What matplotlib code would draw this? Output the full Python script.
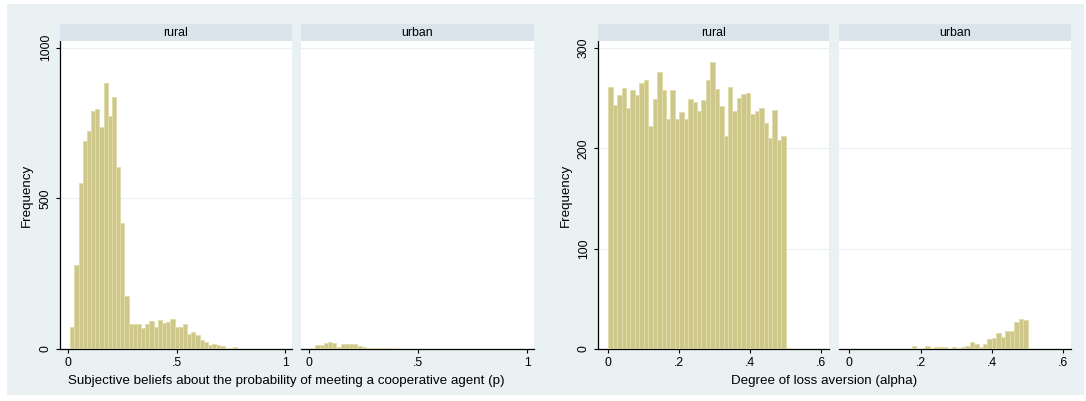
import numpy as np
import matplotlib
matplotlib.use("Agg")
import matplotlib.pyplot as plt
from matplotlib.patches import Rectangle

plt.rcParams['font.family'] = ['Liberation Sans', 'DejaVu Sans']

# ---- data -------------------------------------------------------------
# Subjective belief p: 40 bins of equal width
p_start = 0.0107
p_width = 0.0192
p_rural = [73, 280, 551, 691, 724, 789, 795, 735, 883, 773,
           836, 605, 419, 175, 84, 84, 84, 71, 82, 93,
           73, 96, 85, 88, 99, 73, 73, 82, 51, 56,
           47, 31, 24, 14, 17, 13, 10, 2, 2, 5]
p_urban = [2, 12, 12, 21, 23, 20, 8, 17, 15, 17,
           17, 9, 5, 3, 2, 2, 2, 2, 2, 0,
           2, 0, 0, 0, 0, 0, 0, 0, 0, 0,
           0, 0, 0, 0, 0, 0, 0, 0, 0, 0]
p_ticks = [0, 0.5, 1]
p_ticklabels = ["0", ".5", "1"]
p_yticks = [0, 500, 1000]

# Loss aversion alpha: 41 bins of equal width
a_start = 0.0
a_width = 0.0125
a_rural = [261, 243, 253, 260, 240, 258, 253, 265, 268, 222,
           249, 276, 258, 229, 258, 229, 236, 229, 249, 246,
           237, 248, 268, 286, 259, 242, 212, 261, 237, 250,
           254, 255, 234, 237, 240, 225, 210, 238, 208, 212, 1]
a_urban = [0, 0, 0, 0, 0, 0, 0, 0, 0, 0,
           0, 0, 0, 0, 3, 0, 1, 3, 1, 2,
           2, 2, 0, 2, 1, 2, 3, 7, 5, 2,
           5, 10, 11, 16, 12, 18, 18, 27, 30, 29, 0]
a_ticks = [0, 0.2, 0.4, 0.6]
a_ticklabels = ["0", ".2", ".4", ".6"]
a_yticks = [0, 100, 200, 300]

groups = ["rural", "urban"]

# ---- style ------------------------------------------------------------
W, H = 1086, 401
BG = "#EAF1F3"
STRIP = "#D9E5EA"
GRID = "#EAF1F3"
BAR = "#CDC78A"
BAR_EDGE = "#E0DBA8"
TICK_FS = 8.8
TITLE_FS = 9.6

fig = plt.figure(figsize=(W / 100, H / 100), dpi=100)
fig.patch.set_facecolor("white")
fig.add_artist(Rectangle((7 / W, 1 - 395 / H), (1084 - 7) / W, (395 - 4) / H,
                         transform=fig.transFigure, facecolor=BG,
                         edgecolor="none", zorder=-10))


def px_axes(x0, x1, y0, y1):
    return fig.add_axes([x0 / W, 1 - y1 / H, (x1 - x0) / W, (y1 - y0) / H])


def panel(x0, x1, start, width, counts, xlim, ylim, xticks, xlabels,
          yticks, label, show_y):
    ax = px_axes(x0, x1, 41, 349)
    ax.set_facecolor("white")
    edges = start + width * np.arange(len(counts))
    ax.bar(edges, counts, width=width, align="edge", color=BAR,
           edgecolor=BAR_EDGE, linewidth=0.6, zorder=3)
    ax.set_xlim(*xlim)
    ax.set_ylim(*ylim)
    for yv in yticks:
        ax.axhline(yv, color=GRID, lw=0.9, zorder=1)
    for s in ("top", "right"):
        ax.spines[s].set_visible(False)
    ax.spines["bottom"].set_color("black")
    ax.spines["bottom"].set_linewidth(0.9)
    ax.set_xticks(xticks)
    ax.set_xticklabels(xlabels, fontsize=TICK_FS)
    ax.tick_params(axis="x", length=3, width=0.8, pad=3, color="black")
    if show_y:
        ax.spines["left"].set_color("black")
        ax.spines["left"].set_linewidth(0.9)
        ax.set_yticks(yticks)
        ax.set_yticklabels([str(v) for v in yticks], fontsize=TICK_FS,
                           rotation=90, va="center")
        ax.tick_params(axis="y", length=3, width=0.8, pad=3, color="black")
    else:
        ax.spines["left"].set_visible(False)
        ax.set_yticks([])
    # strip above the panel
    sx = px_axes(x0, x1, 24, 41)
    sx.set_facecolor(STRIP)
    sx.set_xticks([])
    sx.set_yticks([])
    for s in sx.spines.values():
        s.set_visible(False)
    sx.text(0.5, 0.5, label, ha="center", va="center", fontsize=TICK_FS,
            transform=sx.transAxes)
    return ax


# left graph: subjective beliefs
p_xlim = (-0.036, 1.031)
p_ylim = (0, 1022)
panel(60, 292, p_start, p_width, p_rural, p_xlim, p_ylim, p_ticks,
      p_ticklabels, p_yticks, groups[0], True)
panel(301, 534, p_start, p_width, p_urban, p_xlim, p_ylim, p_ticks,
      p_ticklabels, p_yticks, groups[1], False)
fig.text(286 / W, 1 - 381 / H,
         "Subjective beliefs about the probability of meeting a cooperative agent (p)",
         ha="center", va="center", fontsize=TITLE_FS)
fig.text(27 / W, 1 - 195 / H, "Frequency", rotation=90, ha="center",
         va="center", fontsize=TITLE_FS)

# right graph: loss aversion
a_xlim = (-0.029, 0.622)
a_ylim = (0, 307)
panel(598, 829, a_start, a_width, a_rural, a_xlim, a_ylim, a_ticks,
      a_ticklabels, a_yticks, groups[0], True)
panel(839, 1071, a_start, a_width, a_urban, a_xlim, a_ylim, a_ticks,
      a_ticklabels, a_yticks, groups[1], False)
fig.text(824 / W, 1 - 381 / H, "Degree of loss aversion (alpha)",
         ha="center", va="center", fontsize=TITLE_FS)
fig.text(566 / W, 1 - 195 / H, "Frequency", rotation=90, ha="center",
         va="center", fontsize=TITLE_FS)

fig.savefig("out.png", dpi=100, facecolor=fig.get_facecolor())
